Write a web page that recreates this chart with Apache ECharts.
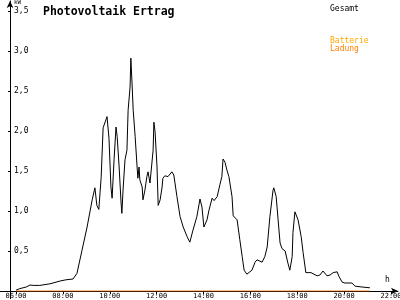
<!DOCTYPE html>
<html>
<head>
<meta charset="utf-8">
<script src="https://cdn.jsdelivr.net/npm/echarts@6/dist/echarts.min.js"></script>
<style>html,body{margin:0;padding:0;background:#fff}#c{width:400px;height:300px}</style>
</head>
<body>
<div id="c"></div>
<script>
const gesamtTimes = ['06:00','06:10','06:26','06:36','06:44','07:01','07:27','07:53','08:08','08:26','08:36','08:49','09:02','09:15','09:22','09:27','09:32','09:38','09:43','09:53','09:56','09:58','10:03','10:06','10:11','10:16','10:19','10:24','10:29','10:31','10:34','10:39','10:44','10:47','10:52','10:54','10:57','11:00','11:05','11:10','11:12','11:15','11:17','11:23','11:25','11:30','11:35','11:38','11:43','11:48','11:51','11:53','11:56','12:01','12:04','12:09','12:14','12:16','12:21','12:29','12:34','12:39','12:44','12:52','13:00','13:08','13:18','13:25','13:33','13:43','13:51','13:56','14:01','14:09','14:14','14:22','14:27','14:35','14:42','14:47','14:50','14:55','15:00','15:05','15:13','15:16','15:26','15:33','15:39','15:44','15:51','15:56','16:04','16:12','16:17','16:22','16:30','16:37','16:43','16:50','16:58','17:00','17:06','17:11','17:16','17:21','17:29','17:34','17:36','17:41','17:47','17:49','17:54','17:59','18:02','18:10','18:15','18:22','18:28','18:35','18:40','18:51','18:58','19:06','19:16','19:24','19:32','19:42','19:47','19:55','20:02','20:10','20:20','20:28','20:46','21:06'];
const gesamtValues = [0.01,0.03,0.05,0.075,0.07,0.07,0.09,0.125,0.14,0.15,0.22,0.51,0.8,1.14,1.29,1.07,1.02,1.42,2.04,2.18,2.2,1.91,1.3,1.16,1.64,2.05,1.93,1.55,1.1,0.97,1.26,1.64,1.76,2.26,2.55,2.91,2.6,2.26,1.93,1.55,1.41,1.55,1.39,1.3,1.14,1.26,1.43,1.49,1.35,1.36,1.76,2.11,1.99,1.55,1.07,1.14,1.3,1.41,1.44,1.43,1.45,1.49,1.45,1.18,0.93,0.8,0.68,0.61,0.76,0.93,1.15,1.05,0.8,0.89,1.01,1.16,1.13,1.18,1.33,1.43,1.65,1.61,1.51,1.43,1.18,0.94,0.89,0.64,0.43,0.26,0.21,0.21,0.26,0.36,0.39,0.37,0.36,0.43,0.55,0.93,1.26,1.29,1.18,0.89,0.6,0.53,0.5,0.49,0.35,0.26,0.43,0.73,0.99,1.01,0.89,0.68,0.48,0.23,0.23,0.23,0.21,0.19,0.2,0.25,0.19,0.2,0.23,0.24,0.18,0.11,0.1,0.1,0.1,0.06,0.05,0.04];
const ladungTimes = ['06:00','21:05'];
const ladungValues = [0,0];
const xTickLabels = ['06:00','08:00','10:00','12:00','14:00','16:00','18:00','20:00','22:00'];
const yTickValues = [0.5,1.0,1.5,2.0,2.5,3.0,3.5];

const toH = s => { const p = s.split(':'); return +p[0] + (+p[1]) / 60; };
const zip = (t, v) => t.map((s, i) => [toH(s), v[i]]);
const font = 'DejaVu Sans Mono';

const chart = echarts.init(document.getElementById('c'), null, {renderer: 'canvas'});
chart.setOption({
  animation: false,
  backgroundColor: '#fff',
  title: {
    text: 'Photovoltaik Ertrag', left: 38, top: 1,
    textStyle: {fontFamily: font, fontSize: 11.5, fontWeight: 'bold', color: '#000'}
  },
  legend: [
    {data: ['Gesamt'], left: 320, top: 0, icon: 'none', itemWidth: 0, itemHeight: 0, selectedMode: false,
     textStyle: {fontFamily: font, fontSize: 8, color: '#000'}},
    {data: ['Batterie Ladung'], left: 320, top: 32, icon: 'none', itemWidth: 0, itemHeight: 0, selectedMode: false,
     formatter: () => '{a|Batterie}\n{b|Ladung}',
     textStyle: {fontFamily: font, fontSize: 8, lineHeight: 8,
       rich: {a: {color: '#ffa800', fontFamily: font, fontSize: 8, lineHeight: 8},
              b: {color: '#ff8000', fontFamily: font, fontSize: 8, lineHeight: 8}}}}
  ],
  graphic: [
    {type: 'text', left: 14, top: -1, style: {text: 'kW', font: '6px ' + font, fill: '#000'}},
    {type: 'text', left: 385, top: 276, style: {text: 'h', font: '8px ' + font, fill: '#000'}},
    {type: 'line', shape: {x1: 10.5, y1: 291, x2: 10.5, y2: 299}, style: {stroke: '#000', lineWidth: 1}}
  ],
  grid: {left: 0, right: 2, top: 1, bottom: 9, containLabel: false, outerBoundsMode: 'none'},
  xAxis: {
    type: 'value', min: 6 - 16 / 23.4375, max: 6 + 382 / 23.4375,
    splitLine: {show: false},
    axisLine: {onZero: false, lineStyle: {color: '#000', width: 1}, symbol: ['none', 'arrow'], symbolSize: [5, 7]},
    axisTick: {customValues: xTickLabels.map(toH), length: 3, lineStyle: {color: '#000'}},
    axisLabel: {customValues: xTickLabels.map(toH), margin: 2, fontFamily: font, fontSize: 7, color: '#000',
      formatter: v => xTickLabels[xTickLabels.map(toH).indexOf(v)] || ''}
  },
  yAxis: {
    type: 'value', min: 0, max: 3.625, offset: -10,
    splitLine: {show: false},
    axisLine: {lineStyle: {color: '#000', width: 1}, symbol: ['none', 'arrow'], symbolSize: [5, 7]},
    axisTick: {customValues: yTickValues, length: 2, lineStyle: {color: '#000'}},
    axisLabel: {customValues: yTickValues, inside: true, margin: 4, fontFamily: font, fontSize: 8, color: '#000',
      formatter: v => v.toFixed(1).replace('.', ',')}
  },
  series: [
    {name: 'Gesamt', type: 'line', data: zip(gesamtTimes, gesamtValues), showSymbol: false, symbol: 'none',
     lineStyle: {color: '#000', width: 1}, itemStyle: {color: '#000'}},
    {name: 'Batterie Ladung', type: 'line', data: zip(ladungTimes, ladungValues), showSymbol: false, symbol: 'none',
     lineStyle: {color: '#ff8000', width: 1}, itemStyle: {color: '#ff8000'}, z: 3}
  ]
});
</script>
</body>
</html>
